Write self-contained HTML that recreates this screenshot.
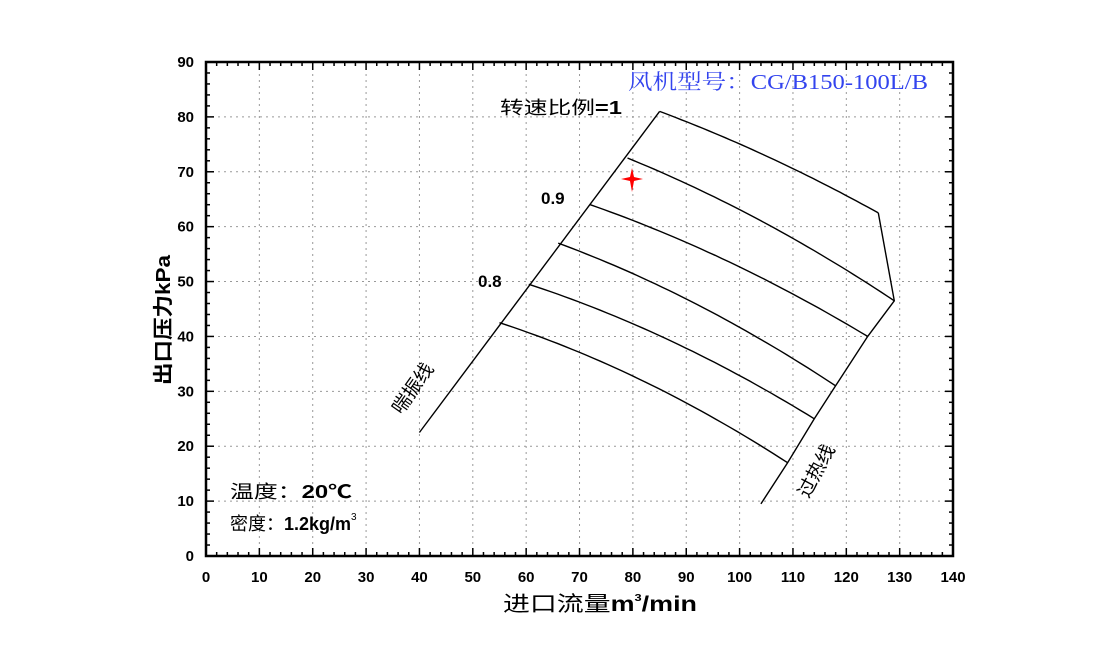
<!DOCTYPE html>
<html><head><meta charset="utf-8"><style>
body{margin:0;background:#fff;}
svg{display:block;}
text{font-family:"Liberation Sans","Noto Sans CJK SC",sans-serif;}
</style></head><body>
<svg id="s" width="1100" height="646" xmlns="http://www.w3.org/2000/svg"></svg>
<script>
const s=document.getElementById('s');
const X=v=>206+5.336*v, Y=v=>556-5.489*v;
let h='';
for(let i=1;i<14;i++) h+=`<line x1="${X(i*10)}" y1="62" x2="${X(i*10)}" y2="556" stroke="#999" stroke-dasharray="2,4" stroke-width="1"/>`;
for(let i=1;i<9;i++) h+=`<line x1="206" y1="${Y(i*10)}" x2="953" y2="${Y(i*10)}" stroke="#999" stroke-dasharray="2,4" stroke-width="1"/>`;
for(let v=0;v<=140;v+=2){const L=v%10==0?8:4;h+=`<line x1="${X(v)}" y1="556" x2="${X(v)}" y2="${556-L}" stroke="#000" stroke-width="1.5"/><line x1="${X(v)}" y1="62" x2="${X(v)}" y2="${62+L}" stroke="#000" stroke-width="1.5"/>`;}
for(let v=0;v<=90;v+=2){const L=v%10==0?8:4;h+=`<line x1="206" y1="${Y(v)}" x2="${206+L}" y2="${Y(v)}" stroke="#000" stroke-width="1.5"/><line x1="953" y1="${Y(v)}" x2="${953-L}" y2="${Y(v)}" stroke="#000" stroke-width="1.5"/>`;}
h+=`<rect x="206" y="62" width="747" height="494" fill="none" stroke="#000" stroke-width="2.5"/>`;
for(let i=0;i<=14;i++) h+=`<text x="${X(i*10)}" y="582" font-size="15" font-weight="bold" text-anchor="middle">${i*10}</text>`;
for(let i=0;i<=9;i++) h+=`<text x="194" y="${Y(i*10)+5}" font-size="15" font-weight="bold" text-anchor="end">${i*10}</text>`;
const cs=[[85,81,126,62.5],[79,72.5,129,46.5],[72,64,124,40],[66,57,118,31],[60.5,49.5,114,25],[55,42.5,109,17]];
cs.forEach(c=>{const[q1,p1,q2,p2]=c;const B=(p1-p2)/(q2*q2-q1*q1);let d='';for(let k=0;k<=40;k++){const q=q1+(q2-q1)*k/40;const p=p1-B*(q*q-q1*q1);d+=(k?'L':'M')+X(q).toFixed(1)+','+Y(p).toFixed(1);}h+=`<path d="${d}" fill="none" stroke="#000" stroke-width="1.4"/>`;});
const pl=(pts)=>`<polyline points="${pts.map(p=>X(p[0]).toFixed(1)+','+Y(p[1]).toFixed(1)).join(' ')}" fill="none" stroke="#000" stroke-width="1.4"/>`;
h+=pl([[40,22.5],[85,81]]);
h+=pl([[126,62.5],[129,46.5],[124,40],[118,31],[114,25],[109,17],[104,9.5]]);
h+=`<text x="628" y="89" font-size="21" fill="#3344ee" textLength="300" lengthAdjust="spacingAndGlyphs" style="font-family:'Liberation Serif','Noto Serif CJK SC',serif">风机型号：CG/B150-100L/B</text>`;
h+=`<text x="500" y="114" font-size="18" textLength="122" lengthAdjust="spacingAndGlyphs">转速比例<tspan font-weight="bold">=1</tspan></text>`;
h+=`<text x="541" y="204" font-size="17" font-weight="bold">0.9</text>`;
h+=`<text x="478" y="287" font-size="17" font-weight="bold">0.8</text>`;
h+=`<text transform="translate(418,392) rotate(-55)" font-size="19" text-anchor="middle">喘振线</text>`;
h+=`<text transform="translate(822,474) rotate(-62)" font-size="19" text-anchor="middle">过热线</text>`;
h+=`<text x="230" y="498" font-size="18" textLength="122" lengthAdjust="spacingAndGlyphs">温度：<tspan font-weight="bold">20℃</tspan></text>`;
h+=`<text x="230" y="530" font-size="18">密度：<tspan font-weight="bold">1.2kg/m</tspan><tspan font-size="10" dy="-10">3</tspan></text>`;
h+=`<text x="503" y="611" font-size="21" textLength="194" lengthAdjust="spacingAndGlyphs">进口流量<tspan font-weight="bold">m</tspan><tspan font-size="10" dy="-10" font-weight="bold">3</tspan><tspan dy="10" font-weight="bold">/min</tspan></text>`;
h+=`<text transform="translate(170,320) rotate(-90)" font-size="20" font-weight="bold" text-anchor="middle" textLength="130" lengthAdjust="spacingAndGlyphs">出口压力kPa</text>`;
h+=`<path d="M632,168 L634,177 L643,179 L634,181 L632,192 L630,181 L621,179 L630,177 Z" fill="#f00"/>`;
s.innerHTML=h;
</script>
</body></html>
